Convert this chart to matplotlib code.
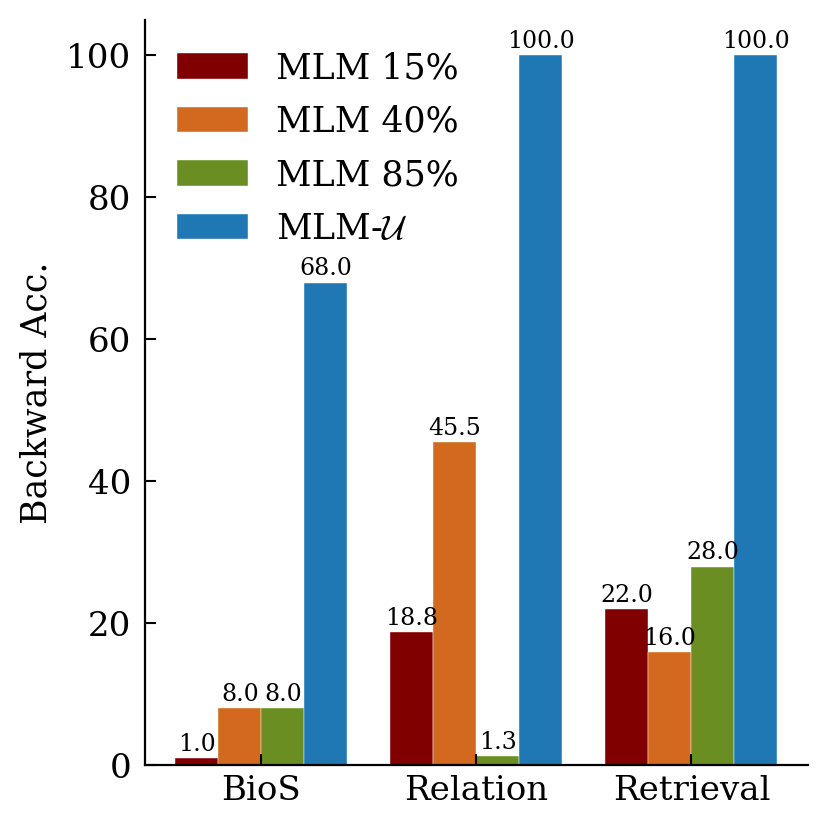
import matplotlib
matplotlib.use("Agg")
import matplotlib.pyplot as plt
import numpy as np

plt.rcParams['font.family'] = 'DejaVu Serif'
plt.rcParams['mathtext.fontset'] = 'cm'

tasks = ['BioS', 'Relation', 'Retrieval']
series = ['MLM 15%', 'MLM 40%', 'MLM 85%', r'MLM-$\mathcal{U}$']
mlm15 = [1.0, 18.8, 22.0]
mlm40 = [8.0, 45.5, 16.0]
mlm85 = [8.0, 1.3, 28.0]
mlmu = [68.0, 100.0, 100.0]
colors = ['#800000', '#D2691E', '#6B8E23', '#1f77b4']

fig = plt.figure(figsize=(8.3, 8.3), dpi=100)
ax = fig.add_axes([0.175, 0.078, 0.798, 0.898])

x = np.arange(len(tasks))
w = 0.2
for i, (vals, lab, c) in enumerate(zip([mlm15, mlm40, mlm85, mlmu], series, colors)):
    bars = ax.bar(x + (i - 1.5) * w, vals, w, label=lab, color=c,
                  edgecolor='white', linewidth=0.3)
    ax.bar_label(bars, fmt='%.1f', fontsize=17, padding=1.5)

ax.set_xticks(x)
ax.set_xticklabels(tasks)
ax.set_ylabel('Backward Acc.', fontsize=25, labelpad=9)
ax.tick_params(axis='both', direction='in', labelsize=24.5, length=8, width=1.5)
ax.tick_params(axis='y', pad=10)
ax.tick_params(axis='x', pad=7)
ax.spines['top'].set_visible(False)
ax.spines['right'].set_visible(False)
for s in ['left', 'bottom']:
    ax.spines[s].set_linewidth(1.6)

ax.legend(loc='upper left', frameon=False, fontsize=25, handlelength=2.07,
          handleheight=0.75, labelspacing=0.56)

fig.savefig('out.png', dpi=100)
